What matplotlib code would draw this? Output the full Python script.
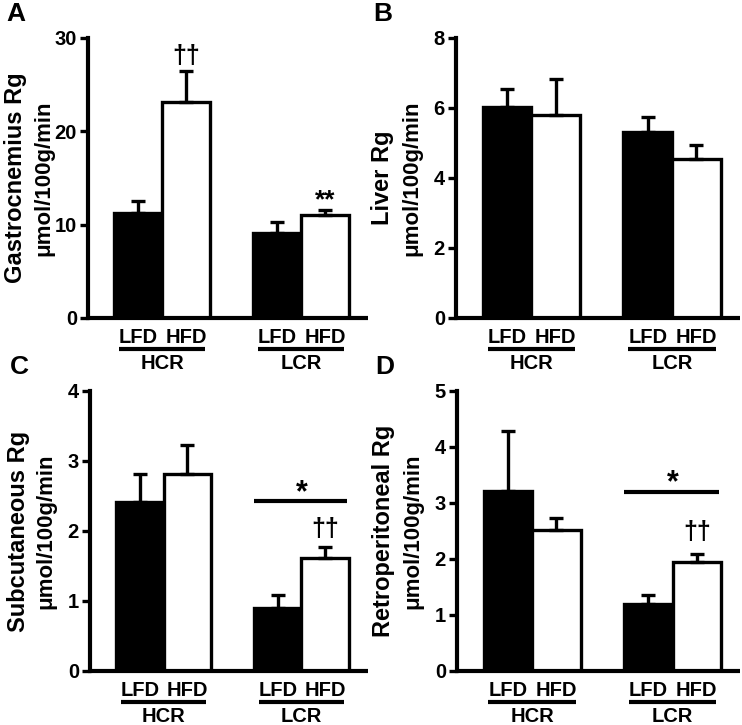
import matplotlib

matplotlib.use("Agg")
import matplotlib.pyplot as plt
import matplotlib.transforms as mtransforms

plt.rcParams["font.family"] = ["Liberation Sans", "DejaVu Sans"]
plt.rcParams["font.weight"] = "bold"

BLACK = "#000000"
WHITE = "#FFFFFF"

# ── Data ─────────────────────────────────────────────────────────────────────

strains = ["HCR", "LCR"]
diets = ["LFD", "HFD"]
bar_pos = [1.0, 2.0, 3.9, 4.9]  # HCR-LFD, HCR-HFD, LCR-LFD, LCR-HFD

gastro_mean = [11.3, 23.1, 9.1, 11.0]
gastro_sem = [1.2, 3.4, 1.2, 0.6]

liver_mean = [6.04, 5.8, 5.32, 4.53]
liver_sem = [0.49, 1.02, 0.43, 0.41]

subq_mean = [2.41, 2.82, 0.9, 1.62]
subq_sem = [0.41, 0.41, 0.18, 0.15]

retro_mean = [3.21, 2.51, 1.2, 1.95]
retro_sem = [1.08, 0.23, 0.16, 0.14]

panels = [
    ("A", "Gastrocnemius Rg", gastro_mean, gastro_sem, 30, 10,
     [0.1186, 0.5614, 0.3774, 0.3862]),
    ("B", "Liver Rg", liver_mean, liver_sem, 8, 2,
     [0.6146, 0.5614, 0.3827, 0.3862]),
    ("C", "Subcutaneous Rg", subq_mean, subq_sem, 4, 1,
     [0.1213, 0.0745, 0.3747, 0.3862]),
    ("D", "Retroperitoneal Rg", retro_mean, retro_sem, 5, 1,
     [0.6159, 0.0745, 0.3820, 0.3862]),
]

LW = 2.4


def draw_panel(fig, letter, label, mean, sem, ymax, step, rect):
    ax = fig.add_axes(rect)
    colors = [BLACK, WHITE, BLACK, WHITE]
    ax.bar(bar_pos, mean, width=1.0, color=colors, edgecolor=BLACK,
           linewidth=LW, zorder=2)
    ax.errorbar(bar_pos, mean, yerr=[[0] * len(mean), sem], fmt="none",
                ecolor=BLACK, elinewidth=LW, capsize=5, capthick=LW, zorder=3)

    ax.set_xlim(-0.05, 5.8)
    ax.set_ylim(0, ymax)
    ax.set_yticks(range(0, ymax + 1, step))
    ax.tick_params(axis="y", length=6, width=LW, labelsize=14.5, pad=2)
    ax.set_xticks(bar_pos)
    ax.set_xticklabels(diets * 2)
    ax.tick_params(axis="x", length=0, labelsize=14.5, pad=7)
    for side in ("top", "right"):
        ax.spines[side].set_visible(False)
    for side in ("left", "bottom"):
        ax.spines[side].set_linewidth(3)
    ax.spines["bottom"].set_capstyle("butt")

    # strain group lines + labels below the diet labels
    trans = mtransforms.blended_transform_factory(ax.transData, ax.transAxes)
    for i, strain in enumerate(strains):
        x0, x1 = bar_pos[2 * i], bar_pos[2 * i + 1]
        ax.plot([x0 - 0.4, x1 + 0.4], [-0.111, -0.111], color=BLACK, lw=3,
                transform=trans, clip_on=False, solid_capstyle="butt")
        ax.text((x0 + x1) / 2, -0.162, strain, transform=trans, ha="center",
                va="center", fontsize=14.5)

    # y-axis label (two lines)
    ax.text(-0.258, 0.5, label, transform=ax.transAxes, rotation=90,
            ha="center", va="center", fontsize=17)
    ax.text(-0.157, 0.5, "\u03bcmol/100g/min", transform=ax.transAxes,
            rotation=90, ha="center", va="center", fontsize=16)

    # panel letter
    ax.text(-0.29, 1.085, letter, transform=ax.transAxes, ha="left",
            va="center", fontsize=19)
    return ax


fig = plt.figure(figsize=(7.42, 7.25), dpi=100)
fig.patch.set_facecolor(WHITE)

axes = {}
for letter, label, mean, sem, ymax, step, rect in panels:
    axes[letter] = draw_panel(fig, letter, label, mean, sem, ymax, step, rect)

# ── Significance marks ───────────────────────────────────────────────────────

axA = axes["A"]
axA.text(bar_pos[1], gastro_mean[1] + gastro_sem[1] + 0.3, "\u2020\u2020",
         ha="center", va="bottom", fontsize=18)
axA.text(bar_pos[3], gastro_mean[3] + gastro_sem[3] - 0.3, "**",
         ha="center", va="bottom", fontsize=19)

for letter, mean, sem, line_y, star_off, dag_off in [
    ("C", subq_mean, subq_sem, 2.43, -0.1, 0.08),
    ("D", retro_mean, retro_sem, 3.2, -0.12, 0.18),
]:
    ax = axes[letter]
    ax.plot([bar_pos[2] - 0.5, bar_pos[3] + 0.45], [line_y, line_y],
            color=BLACK, lw=3, solid_capstyle="butt", zorder=3)
    ax.text((bar_pos[2] + bar_pos[3]) / 2, line_y + star_off, "*",
            ha="center", va="bottom", fontsize=22)
    ax.text(bar_pos[3], mean[3] + sem[3] + dag_off, "\u2020\u2020",
            ha="center", va="bottom", fontsize=18)

fig.savefig("out.png", dpi=100, facecolor=WHITE)
